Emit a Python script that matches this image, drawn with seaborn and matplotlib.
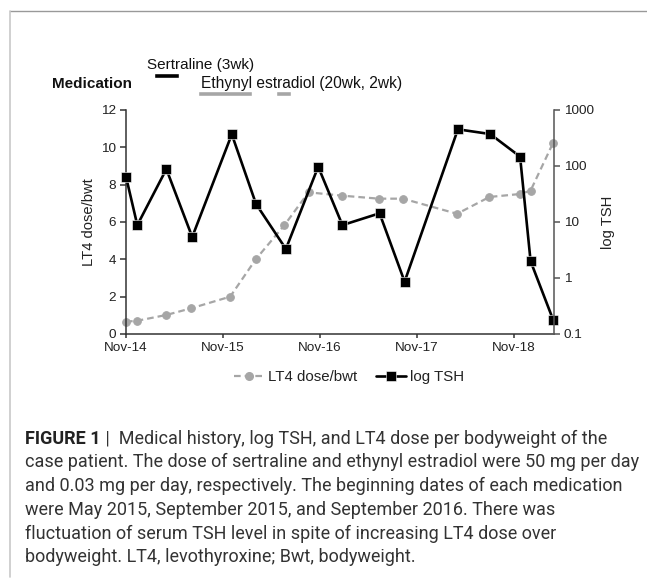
import matplotlib
matplotlib.use("Agg")
import matplotlib.pyplot as plt
import seaborn as sns
import pandas as pd
from matplotlib.lines import Line2D
from matplotlib import font_manager

# ---------------- data ----------------
tick_months = [0, 12, 24, 36, 48]
tick_labels = ["Nov-14", "Nov-15", "Nov-16", "Nov-17", "Nov-18"]

dose_months = [0, 1.4, 5.0, 8.1, 12.9, 16.1, 19.6, 22.6, 26.8, 31.3, 34.3, 41.0, 45.0, 48.8, 50.1, 52.9]
lt4_dose = [0.66, 0.71, 1.02, 1.38, 2.0, 4.02, 5.82, 7.59, 7.41, 7.25, 7.25, 6.44, 7.34, 7.5, 7.68, 10.25]

tsh_months = [0, 1.4, 5.0, 8.2, 13.1, 16.1, 19.8, 23.8, 26.8, 31.4, 34.5, 41.1, 45.1, 48.8, 50.1, 52.9]
tsh_values = [64.5, 8.8, 88, 5.4, 368, 21, 3.3, 97, 8.8, 14.3, 0.86, 452, 372, 147, 2.0, 0.178]

sertraline_periods = [(3.5, 3.1)]            # (start month, duration)
estradiol_periods = [(8.9, 6.7), (18.6, 1.8)]

left_ticks = [0, 2, 4, 6, 8, 10, 12]
right_ticks = [0.1, 1, 10, 100, 1000]
right_tick_labels = ["0.1", "1", "10", "100", "1000"]

caption_lines = [
    "case patient. The dose of sertraline and ethynyl estradiol were 50 mg per day",
    "and 0.03 mg per day, respectively. The beginning dates of each medication",
    "were May 2015, September 2015, and September 2016. There was",
    "fluctuation of serum TSH level in spite of increasing LT4 dose over",
    "bodyweight. LT4, levothyroxine; Bwt, bodyweight.",
]
caption_first = " |  Medical history, log TSH, and LT4 dose per bodyweight of the"

# ---------------- style ----------------
sns.set_style("white")
plt.rcParams['font.family'] = ['Liberation Sans', 'DejaVu Sans']
GRAY = "#a6a6a6"
DARK = "#333333"

W, H = 647, 579
fig = plt.figure(figsize=(W / 100, H / 100), dpi=100)
def fx(px): return px / W
def fy(py): return 1 - py / H

L, R, T, B = 126, 554, 110, 334
ax = fig.add_axes([fx(L), fy(B), (R - L) / W, (B - T) / H])
ax2 = ax.twinx()

df_dose = pd.DataFrame({"month": dose_months, "dose": lt4_dose})
df_tsh = pd.DataFrame({"month": tsh_months, "tsh": tsh_values})

sns.lineplot(data=df_dose, x="month", y="dose", ax=ax, color=GRAY, linewidth=1.6,
             linestyle="--", marker="o", markersize=5.5, markeredgecolor=GRAY,
             sort=False, estimator=None, legend=False, clip_on=False)
dose_line = ax.lines[-1]
dose_line.set_dashes((3, 1.8))

ax2.set_yscale("log")
sns.lineplot(data=df_tsh, x="month", y="tsh", ax=ax2, color="black", linewidth=1.9,
             marker="s", markersize=6.5, markeredgecolor="white", markeredgewidth=0.4,
             sort=False, estimator=None, legend=False, clip_on=False)

ax.set_xlim(0, 53)
ax.set_ylim(0, 12)
ax2.set_ylim(0.1, 1000)
ax.set_xticks(tick_months)
ax.set_xticklabels(tick_labels)
ax.set_yticks(left_ticks)
ax2.set_yticks(right_ticks)
ax2.set_yticklabels(right_tick_labels)
ax2.yaxis.set_minor_locator(matplotlib.ticker.NullLocator())

ax.set_xlabel("")
ax.set_ylabel("LT4 dose/bwt", fontsize=10.6, labelpad=4, color="#222222")
ax2.set_ylabel("log TSH", fontsize=10.6, labelpad=5, color="#222222")

for a in (ax, ax2):
    a.spines["top"].set_visible(False)
    a.grid(False)
ax.spines["right"].set_visible(False)
ax2.spines["left"].set_visible(False)
ax2.spines["bottom"].set_visible(False)
ax.spines["left"].set_color(DARK)
ax.spines["bottom"].set_color(DARK)
ax2.spines["right"].set_color("#555555")
for s in ("left", "bottom"):
    ax.spines[s].set_linewidth(1.1)
ax2.spines["right"].set_linewidth(1.1)

ax.tick_params(axis="x", direction="out", length=3, width=1.1, color=DARK,
               labelsize=9.7, labelcolor="#222222", pad=3, bottom=True)
ax.tick_params(axis="y", direction="out", length=4, width=1.1, color=DARK,
               labelsize=9.7, labelcolor="#222222", pad=3, left=True)
ax2.tick_params(axis="y", direction="out", length=4, width=1.1, color="#555555",
                labelsize=9.7, labelcolor="#222222", pad=3, right=True)

# ---------------- medication bars ----------------
ax_top = fig.add_axes([fx(L), fy(101), (R - L) / W, 33 / H], sharex=ax)
ax_top.set_ylim(0, 33)
ax_top.broken_barh(sertraline_periods, (25.2 - 2.6, 5.2), facecolors="black")
ax_top.broken_barh(estradiol_periods, (7.8 - 2.6, 5.2), facecolors=GRAY)
ax_top.axis("off")
ax.set_xlim(0, 53)

fig.text(fx(52), fy(83), "Medication", fontsize=11, fontweight="bold",
         va="center_baseline", ha="left", color="#111111")
fig.text(fx(147), fy(64), "Sertraline (3wk)", fontsize=11, va="center_baseline",
         ha="left", color="#111111")
fig.text(fx(201), fy(82), "Ethynyl estradiol (20wk, 2wk)", fontsize=11.2,
         va="center_baseline", ha="left", color="#111111")

# ---------------- legend ----------------
h1 = Line2D([], [], color=GRAY, linewidth=1.6, linestyle="--", dashes=(3, 1.8),
            marker="o", markersize=5.5, markeredgecolor=GRAY)
h2 = Line2D([], [], color="black", linewidth=1.9, marker="s", markersize=6.5,
            markeredgecolor="white", markeredgewidth=0.4)
fig.legend([h1, h2], ["LT4 dose/bwt", "log TSH"], loc="center",
           bbox_to_anchor=(fx(349), fy(377)), ncol=2, frameon=False,
           fontsize=10.8, handlelength=2.0, handletextpad=0.3, columnspacing=1.2,
           labelcolor="#222222")

# ---------------- frame ----------------
fig.add_artist(Line2D([fx(10), fx(647)], [fy(10.7), fy(10.7)], color="#999999", linewidth=1.0))
fig.add_artist(Line2D([fx(10), fx(10)], [fy(10.7), fy(577)], color="#c8c8c8", linewidth=1.2))

# ---------------- caption ----------------
names = {f.name for f in font_manager.fontManager.ttflist}
cap_font = ["Roboto", "DejaVu Sans"] if "Roboto" in names else ["Liberation Sans", "DejaVu Sans"]
cap_size = 13.0
cap_color = "#333333"
line_y = [436.7, 460.4, 484.1, 507.8, 531.5, 555.2]
t_bold = fig.text(fx(25), fy(line_y[0]), "FIGURE 1", fontsize=cap_size, fontweight="bold",
                  family=cap_font, va="center_baseline", ha="left", color="#222222")
fig.canvas.draw()
bb = t_bold.get_window_extent(renderer=fig.canvas.get_renderer())
fig.text(bb.x1 / W, fy(line_y[0]), caption_first, fontsize=cap_size, family=cap_font,
         va="center_baseline", ha="left", color=cap_color)
for yy, txt in zip(line_y[1:], caption_lines):
    fig.text(fx(25), fy(yy), txt, fontsize=cap_size, family=cap_font,
             va="center_baseline", ha="left", color=cap_color)

fig.savefig("out.png", dpi=100)
